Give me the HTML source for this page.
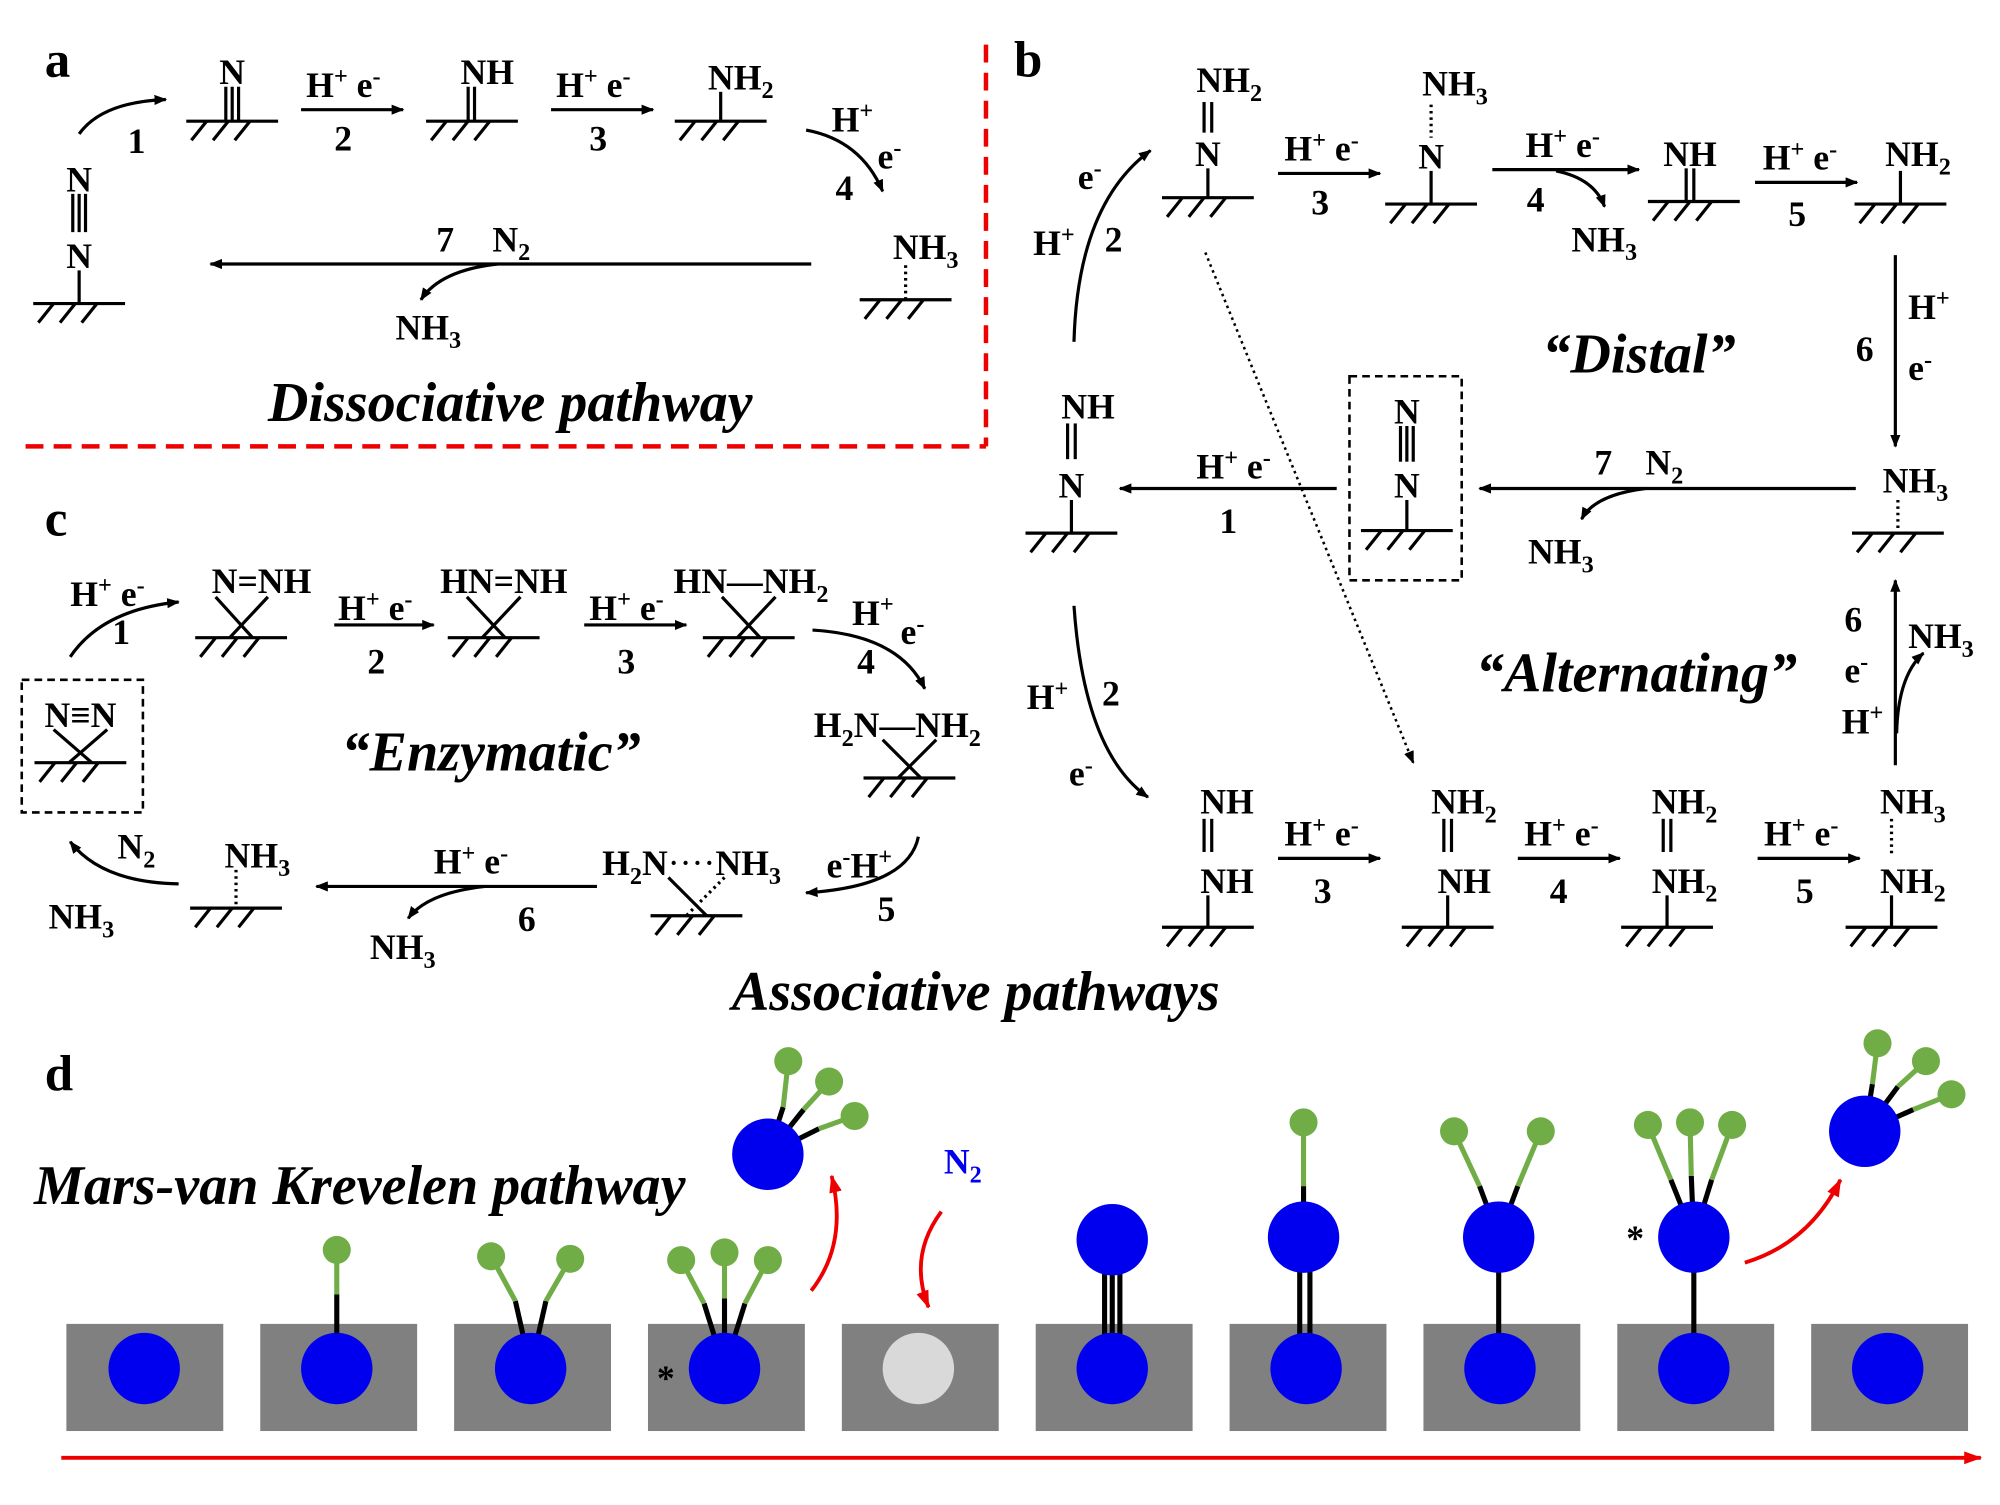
<!DOCTYPE html>
<html><head><meta charset="utf-8"><style>
html,body{margin:0;padding:0;background:#fff}
svg{display:block}
text{font-family:"Liberation Serif",serif;font-weight:bold;font-size:28px;fill:#000}
.it{font-style:italic;font-size:44px}
.s{font-size:19px}
.lbl{font-size:40px}
</style></head><body>
<svg width="2000" height="1505" viewBox="0 0 1568 1180" xmlns="http://www.w3.org/2000/svg">
<defs>
<marker id="ah" markerWidth="10" markerHeight="8" refX="9" refY="4" orient="auto" markerUnits="userSpaceOnUse"><path d="M0,0 L10,4 L0,8 z" fill="#000"/></marker>
<marker id="rh" markerWidth="14" markerHeight="10" refX="13" refY="5" orient="auto" markerUnits="userSpaceOnUse"><path d="M0,0 L14,5 L0,10 z" fill="#e00"/></marker>
<g id="s" stroke="#000" stroke-width="2.5" fill="none"><line x1="-36" y1="0" x2="36" y2="0"/><line x1="-20" y1="0" x2="-32" y2="15"/><line x1="-3" y1="0" x2="-15" y2="15"/><line x1="14" y1="0" x2="2" y2="15"/></g>
</defs>
<g stroke="#000" stroke-width="2.5" fill="none">
<path d="M62,105 Q80,80 130,78" marker-end="url(#ah)"/>
<line x1="236" y1="86" x2="316" y2="86" marker-end="url(#ah)"/>
<line x1="432" y1="86" x2="512" y2="86" marker-end="url(#ah)"/>
<path d="M632,102 Q675,110 692,150" marker-end="url(#ah)"/>
<line x1="636" y1="207" x2="165" y2="207" marker-end="url(#ah)"/>
<path d="M390,207 Q345,212 330,235" marker-end="url(#ah)"/>
<line x1="57" y1="152" x2="57" y2="182"/><line x1="62" y1="152" x2="62" y2="182"/><line x1="67" y1="152" x2="67" y2="182"/>
<line x1="62" y1="212" x2="62" y2="238"/>
<line x1="177" y1="68" x2="177" y2="95"/><line x1="182" y1="68" x2="182" y2="95"/><line x1="187" y1="68" x2="187" y2="95"/>
<line x1="367" y1="68" x2="367" y2="95"/><line x1="372" y1="68" x2="372" y2="95"/>
<line x1="565" y1="72" x2="565" y2="95"/>
<line x1="710" y1="208" x2="710" y2="235" stroke-dasharray="2,3"/>
<path d="M842,268 Q845,160 902,118" marker-end="url(#ah)"/>
<line x1="1002" y1="136" x2="1082" y2="136" marker-end="url(#ah)"/>
<line x1="1170" y1="133" x2="1285" y2="133" marker-end="url(#ah)"/>
<path d="M1220,134 Q1250,140 1258,162" marker-end="url(#ah)"/>
<line x1="1376" y1="143" x2="1456" y2="143" marker-end="url(#ah)"/>
<line x1="1486" y1="200" x2="1486" y2="350" marker-end="url(#ah)"/>
<line x1="1455" y1="383" x2="1160" y2="383" marker-end="url(#ah)"/>
<path d="M1290,383 Q1250,388 1240,407" marker-end="url(#ah)"/>
<line x1="1048" y1="383" x2="878" y2="383" marker-end="url(#ah)"/>
<path d="M842,475 Q850,590 900,625" marker-end="url(#ah)"/>
<line x1="945" y1="198" x2="1108" y2="598" stroke-width="2" stroke-dasharray="2,3" marker-end="url(#ah)"/>
<line x1="1002" y1="673" x2="1082" y2="673" marker-end="url(#ah)"/>
<line x1="1190" y1="673" x2="1270" y2="673" marker-end="url(#ah)"/>
<line x1="1378" y1="673" x2="1458" y2="673" marker-end="url(#ah)"/>
<line x1="1486" y1="600" x2="1486" y2="455" marker-end="url(#ah)"/>
<path d="M1487,575 Q1488,530 1508,512" marker-end="url(#ah)"/>
<line x1="944" y1="80" x2="944" y2="104"/><line x1="950" y1="80" x2="950" y2="104"/>
<line x1="947" y1="132" x2="947" y2="155"/>
<line x1="1122" y1="82" x2="1122" y2="108" stroke-dasharray="2,3"/>
<line x1="1122" y1="134" x2="1122" y2="160"/>
<line x1="1322" y1="132" x2="1322" y2="158"/><line x1="1328" y1="132" x2="1328" y2="158"/>
<line x1="1490" y1="134" x2="1490" y2="160"/>
<line x1="1488" y1="392" x2="1488" y2="418" stroke-dasharray="2,3"/>
<rect x="1058" y="295" width="88" height="160" stroke-dasharray="6,4" stroke-width="2"/>
<line x1="1098" y1="334" x2="1098" y2="362"/><line x1="1103" y1="334" x2="1103" y2="362"/><line x1="1108" y1="334" x2="1108" y2="362"/>
<line x1="1103" y1="392" x2="1103" y2="416"/>
<line x1="837" y1="332" x2="837" y2="360"/><line x1="843" y1="332" x2="843" y2="360"/>
<line x1="840" y1="392" x2="840" y2="418"/>
<line x1="944" y1="642" x2="944" y2="668"/><line x1="950" y1="642" x2="950" y2="668"/>
<line x1="947" y1="702" x2="947" y2="727"/>
<line x1="1132" y1="642" x2="1132" y2="668"/><line x1="1138" y1="642" x2="1138" y2="668"/>
<line x1="1135" y1="702" x2="1135" y2="727"/>
<line x1="1304" y1="642" x2="1304" y2="668"/><line x1="1310" y1="642" x2="1310" y2="668"/>
<line x1="1307" y1="702" x2="1307" y2="727"/>
<line x1="1483" y1="642" x2="1483" y2="670" stroke-dasharray="2,3"/>
<line x1="1483" y1="702" x2="1483" y2="727"/>
<path d="M55,515 Q80,478 140,472" marker-end="url(#ah)"/>
<line x1="262" y1="490" x2="340" y2="490" marker-end="url(#ah)"/>
<line x1="458" y1="490" x2="538" y2="490" marker-end="url(#ah)"/>
<path d="M637,494 Q705,498 725,540" marker-end="url(#ah)"/>
<path d="M720,656 Q712,695 632,700" marker-end="url(#ah)"/>
<line x1="468" y1="695" x2="248" y2="695" marker-end="url(#ah)"/>
<path d="M380,695 Q335,700 320,720" marker-end="url(#ah)"/>
<path d="M140,693 Q80,692 55,660" marker-end="url(#ah)"/>
<line x1="169" y1="468" x2="198" y2="500"/><line x1="210" y1="468" x2="180" y2="500"/>
<line x1="366" y1="468" x2="396" y2="500"/><line x1="408" y1="468" x2="378" y2="500"/>
<line x1="566" y1="468" x2="596" y2="500"/><line x1="608" y1="468" x2="578" y2="500"/>
<line x1="692" y1="580" x2="722" y2="610"/><line x1="734" y1="580" x2="704" y2="610"/>
<line x1="524" y1="688" x2="554" y2="718"/><line x1="568" y1="688" x2="538" y2="718" stroke-dasharray="2,3"/>
<line x1="185" y1="682" x2="185" y2="712" stroke-dasharray="2,3"/>
<rect x="17" y="533" width="95" height="104" stroke-dasharray="6,4" stroke-width="2"/>
<line x1="42" y1="572" x2="72" y2="598"/><line x1="84" y1="572" x2="54" y2="598"/>
</g>
<use href="#s" x="62" y="238"/><use href="#s" x="182" y="95"/><use href="#s" x="370" y="95"/><use href="#s" x="565" y="95"/><use href="#s" x="710" y="235"/>
<use href="#s" x="947" y="155"/><use href="#s" x="1122" y="160"/><use href="#s" x="1328" y="158"/><use href="#s" x="1490" y="160"/><use href="#s" x="1488" y="418"/><use href="#s" x="1103" y="416"/><use href="#s" x="840" y="418"/>
<use href="#s" x="947" y="727"/><use href="#s" x="1135" y="727"/><use href="#s" x="1307" y="727"/><use href="#s" x="1483" y="727"/>
<use href="#s" x="189" y="500"/><use href="#s" x="387" y="500"/><use href="#s" x="587" y="500"/><use href="#s" x="713" y="610"/><use href="#s" x="546" y="718"/><use href="#s" x="185" y="712"/><use href="#s" x="63" y="598"/>
<g stroke="#e00" stroke-width="3.5" stroke-dasharray="14,8" fill="none"><line x1="773" y1="35" x2="773" y2="350"/><line x1="20" y1="350" x2="773" y2="350"/></g>
<text class="lbl" x="35" y="60">a</text>
<text x="62" y="150" text-anchor="middle">N</text><text x="62" y="210" text-anchor="middle">N</text>
<text x="100" y="120">1</text>
<text x="182" y="66" text-anchor="middle">N</text>
<text x="240" y="76">H<tspan class="s" dy="-10">+</tspan><tspan dy="10"> e</tspan><tspan class="s" dy="-10">-</tspan></text><text x="262" y="118">2</text>
<text x="382" y="66" text-anchor="middle">NH</text>
<text x="436" y="76">H<tspan class="s" dy="-10">+</tspan><tspan dy="10"> e</tspan><tspan class="s" dy="-10">-</tspan></text><text x="462" y="118">3</text>
<text x="555" y="70">NH<tspan class="s" dy="7">2</tspan></text>
<text x="652" y="103">H<tspan class="s" dy="-10">+</tspan></text><text x="688" y="132">e<tspan class="s" dy="-10">-</tspan></text><text x="655" y="157">4</text>
<text x="700" y="203">NH<tspan class="s" dy="7">3</tspan></text>
<text x="342" y="197">7</text><text x="386" y="197">N<tspan class="s" dy="7">2</tspan></text>
<text x="310" y="266">NH<tspan class="s" dy="7">3</tspan></text>
<text class="it" x="400" y="330" text-anchor="middle">Dissociative pathway</text>
<text class="lbl" x="795" y="60">b</text>
<text x="938" y="72">NH<tspan class="s" dy="7">2</tspan></text><text x="947" y="130" text-anchor="middle">N</text>
<text x="845" y="148">e<tspan class="s" dy="-10">-</tspan></text><text x="810" y="200">H<tspan class="s" dy="-10">+</tspan></text><text x="866" y="197">2</text>
<text x="1007" y="126">H<tspan class="s" dy="-10">+</tspan><tspan dy="10"> e</tspan><tspan class="s" dy="-10">-</tspan></text><text x="1028" y="168">3</text>
<text x="1115" y="75">NH<tspan class="s" dy="7">3</tspan></text><text x="1122" y="132" text-anchor="middle">N</text>
<text x="1196" y="123">H<tspan class="s" dy="-10">+</tspan><tspan dy="10"> e</tspan><tspan class="s" dy="-10">-</tspan></text><text x="1197" y="166">4</text>
<text x="1232" y="197">NH<tspan class="s" dy="7">3</tspan></text>
<text x="1325" y="130" text-anchor="middle">NH</text>
<text x="1382" y="133">H<tspan class="s" dy="-10">+</tspan><tspan dy="10"> e</tspan><tspan class="s" dy="-10">-</tspan></text><text x="1402" y="177">5</text>
<text x="1478" y="130">NH<tspan class="s" dy="7">2</tspan></text>
<text x="1496" y="250">H<tspan class="s" dy="-10">+</tspan></text><text x="1496" y="298">e<tspan class="s" dy="-10">-</tspan></text><text x="1455" y="283">6</text>
<text class="it" x="1285" y="292" text-anchor="middle">“Distal”</text>
<text x="1476" y="386">NH<tspan class="s" dy="7">3</tspan></text>
<text x="1250" y="372">7</text><text x="1290" y="372">N<tspan class="s" dy="7">2</tspan></text>
<text x="1198" y="442">NH<tspan class="s" dy="7">3</tspan></text>
<text x="1103" y="332" text-anchor="middle">N</text><text x="1103" y="390" text-anchor="middle">N</text>
<text x="938" y="375">H<tspan class="s" dy="-10">+</tspan><tspan dy="10"> e</tspan><tspan class="s" dy="-10">-</tspan></text><text x="956" y="418">1</text>
<text x="853" y="328" text-anchor="middle">NH</text><text x="840" y="390" text-anchor="middle">N</text>
<text x="805" y="556">H<tspan class="s" dy="-10">+</tspan></text><text x="864" y="553">2</text><text x="838" y="616">e<tspan class="s" dy="-10">-</tspan></text>
<text class="it" x="1283" y="542" text-anchor="middle">“Alternating”</text>
<text x="962" y="638" text-anchor="middle">NH</text><text x="962" y="700" text-anchor="middle">NH</text>
<text x="1007" y="663">H<tspan class="s" dy="-10">+</tspan><tspan dy="10"> e</tspan><tspan class="s" dy="-10">-</tspan></text><text x="1030" y="708">3</text>
<text x="1122" y="638">NH<tspan class="s" dy="7">2</tspan></text><text x="1148" y="700" text-anchor="middle">NH</text>
<text x="1195" y="663">H<tspan class="s" dy="-10">+</tspan><tspan dy="10"> e</tspan><tspan class="s" dy="-10">-</tspan></text><text x="1215" y="708">4</text>
<text x="1295" y="638">NH<tspan class="s" dy="7">2</tspan></text><text x="1295" y="700">NH<tspan class="s" dy="7">2</tspan></text>
<text x="1383" y="663">H<tspan class="s" dy="-10">+</tspan><tspan dy="10"> e</tspan><tspan class="s" dy="-10">-</tspan></text><text x="1408" y="708">5</text>
<text x="1474" y="638">NH<tspan class="s" dy="7">3</tspan></text><text x="1474" y="700">NH<tspan class="s" dy="7">2</tspan></text>
<text x="1446" y="495">6</text><text x="1446" y="535">e<tspan class="s" dy="-10">-</tspan></text><text x="1444" y="575">H<tspan class="s" dy="-10">+</tspan></text>
<text x="1496" y="508">NH<tspan class="s" dy="7">3</tspan></text>
<text class="lbl" x="35" y="420">c</text>
<text x="55" y="475">H<tspan class="s" dy="-10">+</tspan><tspan dy="10"> e</tspan><tspan class="s" dy="-10">-</tspan></text><text x="88" y="505">1</text>
<text x="205" y="465" text-anchor="middle">N=NH</text>
<text x="265" y="486">H<tspan class="s" dy="-10">+</tspan><tspan dy="10"> e</tspan><tspan class="s" dy="-10">-</tspan></text><text x="288" y="528">2</text>
<text x="395" y="465" text-anchor="middle">HN=NH</text>
<text x="462" y="486">H<tspan class="s" dy="-10">+</tspan><tspan dy="10"> e</tspan><tspan class="s" dy="-10">-</tspan></text><text x="484" y="528">3</text>
<text x="528" y="465">HN—NH<tspan class="s" dy="7">2</tspan></text>
<text x="668" y="490">H<tspan class="s" dy="-10">+</tspan></text><text x="706" y="505">e<tspan class="s" dy="-10">-</tspan></text><text x="672" y="528">4</text>
<text x="638" y="578">H<tspan class="s" dy="7">2</tspan><tspan dy="-7">N—NH</tspan><tspan class="s" dy="7">2</tspan></text>
<text x="648" y="688">e<tspan class="s" dy="-10">-</tspan><tspan dy="10">H</tspan><tspan class="s" dy="-10">+</tspan></text><text x="688" y="722">5</text>
<text x="472" y="686">H<tspan class="s" dy="7">2</tspan><tspan dy="-7">N</tspan><tspan font-weight="normal">····</tspan>NH<tspan class="s" dy="7">3</tspan></text>
<text x="340" y="685">H<tspan class="s" dy="-10">+</tspan><tspan dy="10"> e</tspan><tspan class="s" dy="-10">-</tspan></text><text x="406" y="730">6</text>
<text x="290" y="752">NH<tspan class="s" dy="7">3</tspan></text>
<text x="176" y="680">NH<tspan class="s" dy="7">3</tspan></text>
<text x="92" y="673">N<tspan class="s" dy="7">2</tspan></text><text x="38" y="728">NH<tspan class="s" dy="7">3</tspan></text>
<text x="63" y="570" text-anchor="middle">N≡N</text>
<text class="it" x="385" y="604" text-anchor="middle">“Enzymatic”</text>
<text class="it" x="765" y="792" text-anchor="middle">Associative pathways</text>
<text class="lbl" x="35" y="855">d</text>
<text class="it" x="282" y="944" text-anchor="middle">Mars-van Krevelen pathway</text>
<g fill="#808080">
<rect x="52" y="1038" width="123" height="84"/><rect x="204" y="1038" width="123" height="84"/><rect x="356" y="1038" width="123" height="84"/><rect x="508" y="1038" width="123" height="84"/><rect x="660" y="1038" width="123" height="84"/><rect x="812" y="1038" width="123" height="84"/><rect x="964" y="1038" width="123" height="84"/><rect x="1116" y="1038" width="123" height="84"/><rect x="1268" y="1038" width="123" height="84"/><rect x="1420" y="1038" width="123" height="84"/>
</g>
<g stroke-width="4" fill="none">
<line x1="264" y1="1073" x2="264" y2="1015" stroke="#000"/><line x1="264" y1="1015" x2="264" y2="980" stroke="#70ad47"/>
<line x1="416" y1="1073" x2="404" y2="1020" stroke="#000"/><line x1="404" y1="1020" x2="385" y2="985" stroke="#70ad47"/>
<line x1="416" y1="1073" x2="428" y2="1020" stroke="#000"/><line x1="428" y1="1020" x2="447" y2="987" stroke="#70ad47"/>
<line x1="568" y1="1073" x2="552" y2="1022" stroke="#000"/><line x1="552" y1="1022" x2="534" y2="988" stroke="#70ad47"/>
<line x1="568" y1="1073" x2="568" y2="1018" stroke="#000"/><line x1="568" y1="1018" x2="568" y2="982" stroke="#70ad47"/>
<line x1="568" y1="1073" x2="584" y2="1022" stroke="#000"/><line x1="584" y1="1022" x2="602" y2="988" stroke="#70ad47"/>
<line x1="602" y1="905" x2="614" y2="868" stroke="#000"/><line x1="614" y1="868" x2="618" y2="832" stroke="#70ad47"/>
<line x1="602" y1="905" x2="630" y2="870" stroke="#000"/><line x1="630" y1="870" x2="650" y2="848" stroke="#70ad47"/>
<line x1="602" y1="905" x2="642" y2="885" stroke="#000"/><line x1="642" y1="885" x2="670" y2="875" stroke="#70ad47"/>
<line x1="866" y1="972" x2="866" y2="1073" stroke="#000"/><line x1="872" y1="972" x2="872" y2="1073" stroke="#000"/><line x1="878" y1="972" x2="878" y2="1073" stroke="#000"/>
<line x1="1019" y1="970" x2="1019" y2="1073" stroke="#000"/><line x1="1027" y1="970" x2="1027" y2="1073" stroke="#000"/>
<line x1="1022" y1="970" x2="1022" y2="930" stroke="#000"/><line x1="1022" y1="930" x2="1022" y2="880" stroke="#70ad47"/>
<line x1="1175" y1="970" x2="1175" y2="1073" stroke="#000"/>
<line x1="1175" y1="970" x2="1160" y2="930" stroke="#000"/><line x1="1160" y1="930" x2="1140" y2="887" stroke="#70ad47"/>
<line x1="1175" y1="970" x2="1190" y2="930" stroke="#000"/><line x1="1190" y1="930" x2="1208" y2="887" stroke="#70ad47"/>
<line x1="1328" y1="970" x2="1328" y2="1073" stroke="#000"/>
<line x1="1328" y1="970" x2="1310" y2="925" stroke="#000"/><line x1="1310" y1="925" x2="1292" y2="882" stroke="#70ad47"/>
<line x1="1328" y1="970" x2="1326" y2="922" stroke="#000"/><line x1="1326" y1="922" x2="1325" y2="880" stroke="#70ad47"/>
<line x1="1328" y1="970" x2="1342" y2="925" stroke="#000"/><line x1="1342" y1="925" x2="1358" y2="882" stroke="#70ad47"/>
<line x1="1462" y1="887" x2="1468" y2="850" stroke="#000"/><line x1="1468" y1="850" x2="1472" y2="818" stroke="#70ad47"/>
<line x1="1462" y1="887" x2="1488" y2="852" stroke="#000"/><line x1="1488" y1="852" x2="1510" y2="832" stroke="#70ad47"/>
<line x1="1462" y1="887" x2="1500" y2="870" stroke="#000"/><line x1="1500" y1="870" x2="1530" y2="858" stroke="#70ad47"/>
</g>
<g fill="#70ad47">
<circle cx="264" cy="980" r="11"/><circle cx="385" cy="985" r="11"/><circle cx="447" cy="987" r="11"/>
<circle cx="534" cy="988" r="11"/><circle cx="568" cy="982" r="11"/><circle cx="602" cy="988" r="11"/>
<circle cx="618" cy="832" r="11"/><circle cx="650" cy="848" r="11"/><circle cx="670" cy="875" r="11"/>
<circle cx="1022" cy="880" r="11"/><circle cx="1140" cy="887" r="11"/><circle cx="1208" cy="887" r="11"/>
<circle cx="1292" cy="882" r="11"/><circle cx="1325" cy="880" r="11"/><circle cx="1358" cy="882" r="11"/>
<circle cx="1472" cy="818" r="11"/><circle cx="1510" cy="832" r="11"/><circle cx="1530" cy="858" r="11"/>
</g>
<g fill="#0000ee">
<circle cx="113" cy="1073" r="28"/><circle cx="264" cy="1073" r="28"/><circle cx="416" cy="1073" r="28"/><circle cx="568" cy="1073" r="28"/><circle cx="872" cy="1073" r="28"/><circle cx="1024" cy="1073" r="28"/><circle cx="1176" cy="1073" r="28"/><circle cx="1328" cy="1073" r="28"/><circle cx="1480" cy="1073" r="28"/>
<circle cx="602" cy="905" r="28"/><circle cx="872" cy="972" r="28"/><circle cx="1022" cy="970" r="28"/><circle cx="1175" cy="970" r="28"/><circle cx="1328" cy="970" r="28"/><circle cx="1462" cy="887" r="28"/>
</g>
<circle cx="720" cy="1073" r="28" fill="#d9d9d9"/>
<text x="515" y="1090" font-size="26">*</text><text x="1275" y="980" font-size="26">*</text>
<text x="740" y="920" style="fill:#0000ee">N<tspan class="s" dy="7">2</tspan></text>
<g stroke="#e00" stroke-width="3" fill="none">
<path d="M636,1012 Q665,975 652,922" marker-end="url(#rh)"/>
<path d="M738,950 Q712,985 728,1025" marker-end="url(#rh)"/>
<path d="M1368,990 Q1418,975 1443,925" marker-end="url(#rh)"/>
<line x1="48" y1="1143" x2="1553" y2="1143" marker-end="url(#rh)"/>
</g>
</svg>
</body></html>
